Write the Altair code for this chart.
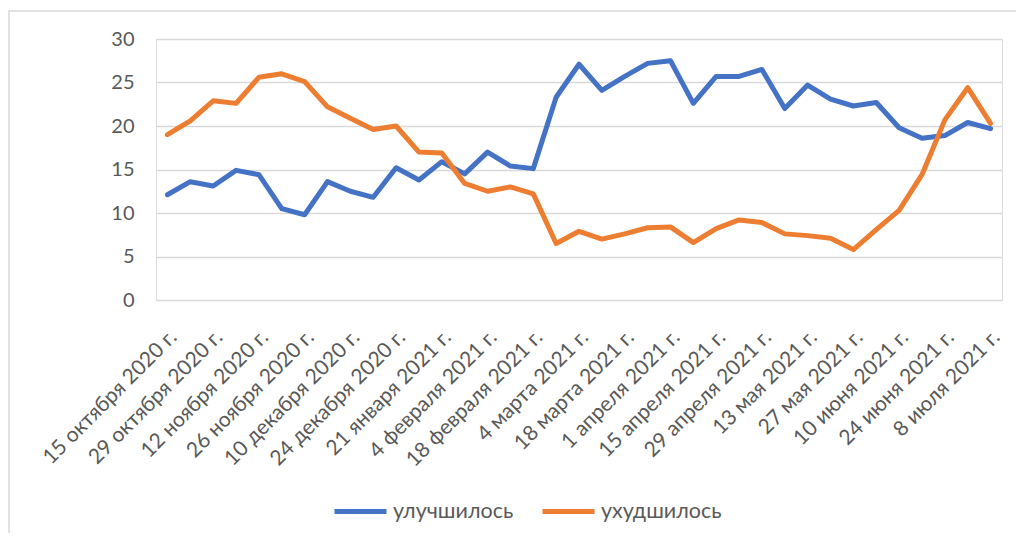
import altair as alt
import pandas as pd

dates = [
    "15 октября 2020 г.", "22 октября 2020 г.", "29 октября 2020 г.", "5 ноября 2020 г.",
    "12 ноября 2020 г.", "19 ноября 2020 г.", "26 ноября 2020 г.", "3 декабря 2020 г.",
    "10 декабря 2020 г.", "17 декабря 2020 г.", "24 декабря 2020 г.", "14 января 2021 г.",
    "21 января 2021 г.", "28 января 2021 г.", "4 февраля 2021 г.", "11 февраля 2021 г.",
    "18 февраля 2021 г.", "25 февраля 2021 г.", "4 марта 2021 г.", "11 марта 2021 г.",
    "18 марта 2021 г.", "25 марта 2021 г.", "1 апреля 2021 г.", "8 апреля 2021 г.",
    "15 апреля 2021 г.", "22 апреля 2021 г.", "29 апреля 2021 г.", "6 мая 2021 г.",
    "13 мая 2021 г.", "20 мая 2021 г.", "27 мая 2021 г.", "3 июня 2021 г.",
    "10 июня 2021 г.", "17 июня 2021 г.", "24 июня 2021 г.", "1 июля 2021 г.",
    "8 июля 2021 г.",
]
shown_labels = dates[::2]

improved = [12.1, 13.6, 13.1, 14.9, 14.4, 10.5, 9.8, 13.6, 12.5, 11.8, 15.2, 13.8, 15.9,
            14.5, 17.0, 15.4, 15.1, 23.3, 27.1, 24.1, 25.7, 27.2, 27.5, 22.6, 25.7, 25.7,
            26.5, 22.0, 24.7, 23.1, 22.3, 22.7, 19.8, 18.6, 18.9, 20.4, 19.7]
worsened = [19.0, 20.6, 22.9, 22.6, 25.6, 26.0, 25.1, 22.2, 20.9, 19.6, 20.0, 17.0, 16.9,
            13.4, 12.5, 13.0, 12.2, 6.5, 7.9, 7.0, 7.6, 8.3, 8.4, 6.6, 8.2, 9.2,
            8.9, 7.6, 7.4, 7.1, 5.8, 8.1, 10.3, 14.4, 20.7, 24.4, 20.3]

series_names = ["улучшилось", "ухудшилось"]
series_colors = ["#4472C4", "#ED7D31"]
y_ticks = [0, 5, 10, 15, 20, 25, 30]

rows = []
for name, vals in zip(series_names, [improved, worsened]):
    for i, (d, v) in enumerate(zip(dates, vals)):
        rows.append({"date": d, "series": name, "value": v, "idx": i})
df = pd.DataFrame(rows)

FONT = "Lato"
GREY = "#595959"

lines = alt.Chart(df).mark_line(strokeWidth=5, strokeCap="round", strokeJoin="round").encode(
    x=alt.X("date:N", sort=dates,
            scale=alt.Scale(type="point", padding=0.5),
            axis=alt.Axis(values=shown_labels, labelAngle=-45, labelAlign="right",
                          labelBaseline="top", labelPadding=26, labelOffset=-2,
                          labelFont=FONT, labelFontSize=21, labelColor=GREY,
                          labelOverlap=False, labelLimit=0, grid=False, ticks=False,
                          domain=False, title=None)),
    y=alt.Y("value:Q", scale=alt.Scale(domain=[0, 30], nice=False, zero=True),
            axis=alt.Axis(values=y_ticks, grid=True, gridColor="#d9d9d9", gridWidth=1.3,
                          ticks=False, domain=False, labelPadding=22, labelFont=FONT,
                          labelFontSize=20, labelColor=GREY, title=None)),
    color=alt.Color("series:N", sort=series_names,
                    scale=alt.Scale(domain=series_names, range=series_colors),
                    legend=alt.Legend(orient="none", legendX=176, legendY=444,
                                      direction="horizontal", symbolType="stroke",
                                      symbolSize=2704, symbolStrokeWidth=5,
                                      labelFont=FONT, labelFontSize=21.5, labelColor=GREY,
                                      labelOffset=4, columnPadding=18, padding=0,
                                      title=None)),
    order=alt.Order("idx:Q"),
)

frame = alt.Chart(pd.DataFrame({"a": [0]})).mark_rect(
    fill="transparent", stroke="#d9d9d9", strokeWidth=1.5
).encode(
    x=alt.value(-147), x2=alt.value(1000), y=alt.value(-28), y2=alt.value(600)
)

chart = alt.layer(frame, lines).properties(
    width=846, height=261,
    autosize=alt.AutoSizeParams(type="none"),
    padding={"left": 148, "top": 31, "right": 14, "bottom": 233},
).configure_view(stroke=None).configure(background="white")

chart.save("out.html", embed_options={"renderer": "svg", "actions": False})
